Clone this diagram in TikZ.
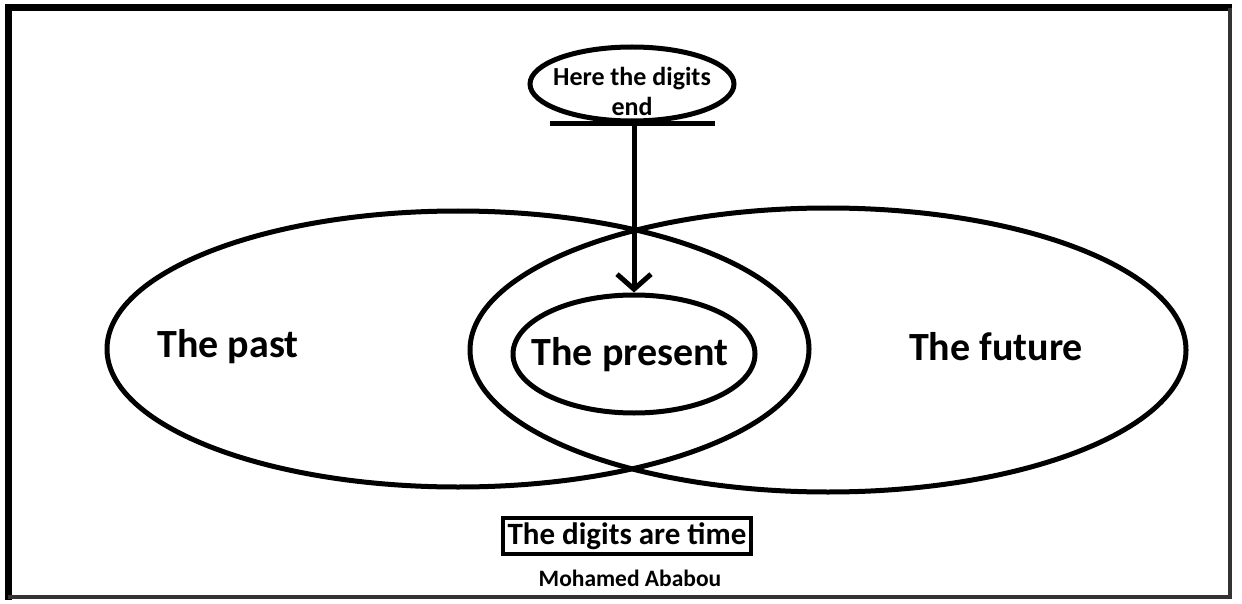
\documentclass[tikz,border=0pt]{standalone}
\usepackage{fontspec}
\setmainfont{Carlito}
\usetikzlibrary{shapes.geometric,arrows.meta}
\begin{document}
\begin{tikzpicture}[x=1pt,y=-1pt,
  oval/.style={ellipse,draw,line width=5pt,inner sep=0pt},
  lbl/.style={font=\bfseries\fontsize{40}{44}\selectfont,inner sep=0pt},
  conn/.style={line width=5pt,-{Straight Barb[length=15pt,width=34pt]}}]
\useasboundingbox (0,0) rectangle (1242,604);
\fill[white] (0,0) rectangle (1242,604);
% frame
\draw[line width=7pt] (8,600) -- (8,8) -- (1232,8);
\draw[line width=4pt,black!80] (1230,8) -- (1230,597) -- (8,597);
% ellipses
\node[oval,minimum width=702,minimum height=276] (past) at (458,349) {};
\node[oval,minimum width=716,minimum height=284] (future) at (828,350) {};
\node[oval,minimum width=242,minimum height=118] (present) at (634,354) {};
\node[oval,minimum width=204,minimum height=74] (top) at (632,84) {};
% labels
\node[lbl] at (228,347) {The past};
\node[lbl] at (630,355) {The present};
\node[lbl] at (996,347) {The future};
\node[inner sep=0pt,align=center,font=\bfseries\fontsize{26}{30}\selectfont] at (632,91) {Here the digits\\end};
% base line under top ellipse
\coordinate (bl) at (550,124);
\coordinate (br) at (715,124);
\coordinate (bm) at (634,124);
\draw[line width=5pt] (bl) -- (br);
\draw[conn] (bm) -- (present.north);
% bottom texts
\node[draw,line width=4pt,inner xsep=5pt,inner ysep=4pt,font=\bfseries\fontsize{31}{34}\selectfont] (title) at (627,536) {The digits are time};
\node[inner sep=0pt,font=\bfseries\fontsize{23.5}{26}\selectfont] (author) at (630,578) {Mohamed Ababou};
\end{tikzpicture}
\end{document}
